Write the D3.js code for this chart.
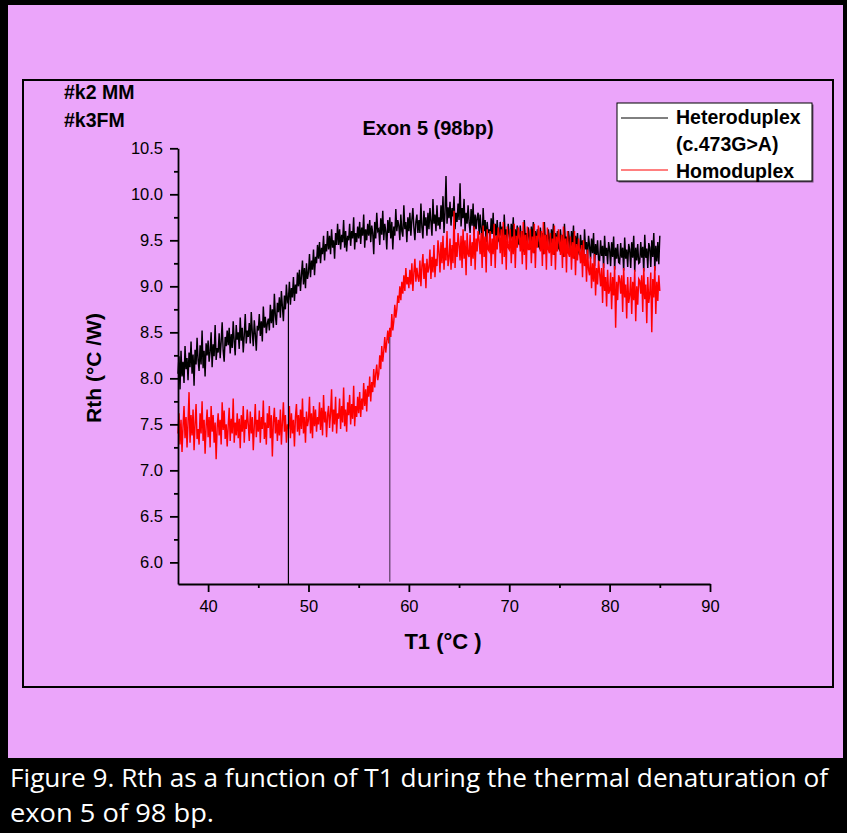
<!DOCTYPE html>
<html><head><meta charset="utf-8">
<script src="https://cdn.jsdelivr.net/npm/d3@7"></script>
<style>body{margin:0;background:#000}svg{display:block}</style>
</head><body><svg id="c" width="847" height="833"></svg>
<script>
// ---- data (T1 sampled from 37.0 °C every 0.1 °C) ----
const tStart = 37, tStep = 0.1;
const heteroduplex = [
8.05,8.24,7.88,8.30,8.02,8.18,7.95,8.35,8.10,8.22,
7.98,8.28,8.12,8.40,8.05,8.26,7.92,8.31,8.15,8.44,
8.20,8.08,8.36,8.15,8.52,8.11,8.30,8.02,8.38,8.25,
8.41,8.18,8.29,8.50,8.12,8.37,8.24,8.58,8.20,8.33,
8.28,8.49,8.22,8.40,8.61,8.30,8.18,8.45,8.35,8.52,
8.36,8.55,8.27,8.48,8.33,8.62,8.40,8.25,8.58,8.42,
8.50,8.32,8.66,8.41,8.55,8.28,8.47,8.70,8.38,8.52,
8.45,8.60,8.38,8.72,8.50,8.35,8.63,8.48,8.30,8.57,
8.52,8.70,8.46,8.62,8.40,8.78,8.55,8.67,8.49,8.60,
8.65,8.52,8.80,8.60,8.75,8.55,8.92,8.68,8.58,8.82,
8.72,8.88,8.66,8.95,8.78,8.62,8.90,8.75,9.02,8.83,
8.85,9.05,8.80,8.98,8.88,9.10,8.84,9.02,8.92,9.15,
9.00,9.18,8.95,9.12,9.28,9.02,9.20,8.98,9.25,9.08,
9.15,9.35,9.10,9.28,9.18,9.40,9.12,9.32,9.25,9.45,
9.30,9.48,9.25,9.42,9.35,9.55,9.28,9.46,9.38,9.60,
9.40,9.55,9.35,9.62,9.42,9.50,9.30,9.58,9.45,9.68,
9.45,9.62,9.40,9.56,9.48,9.72,9.42,9.60,9.38,9.55,
9.50,9.68,9.44,9.60,9.52,9.75,9.40,9.58,9.48,9.65,
9.52,9.70,9.46,9.64,9.55,9.78,9.42,9.62,9.50,9.68,
9.55,9.72,9.48,9.66,9.58,9.35,9.70,9.52,9.80,9.60,
9.62,9.45,9.74,9.56,9.82,9.50,9.68,9.60,9.40,9.72,
9.58,9.75,9.52,9.70,9.40,9.65,9.55,9.84,9.60,9.72,
9.66,9.50,9.78,9.60,9.54,9.88,9.62,9.70,9.48,9.75,
9.60,9.80,9.55,9.72,9.85,9.64,9.50,9.70,9.78,9.58,
9.72,9.58,9.90,9.64,9.52,9.82,9.66,9.75,9.55,9.80,
9.62,9.85,9.70,9.55,9.95,9.68,9.78,9.60,9.88,9.66,
9.75,9.62,9.88,9.70,9.98,9.58,9.80,10.20,9.68,9.86,
9.74,9.92,9.66,9.85,9.76,9.98,9.62,9.80,9.70,9.90,
9.72,10.12,9.65,9.85,9.74,9.95,9.60,9.80,9.68,9.88,
9.70,9.58,9.84,9.66,9.90,9.55,9.78,9.62,9.75,9.80,
9.56,9.78,9.62,9.50,9.85,9.60,9.72,9.48,9.70,9.58,
9.62,9.50,9.74,9.57,9.80,9.45,9.68,9.55,9.72,9.52,
9.48,9.70,9.55,9.65,9.42,9.78,9.54,9.62,9.50,9.68,
9.56,9.44,9.68,9.52,9.75,9.40,9.62,9.50,9.66,9.48,
9.45,9.66,9.50,9.60,9.38,9.72,9.52,9.58,9.42,9.64,
9.55,9.40,9.65,9.49,9.70,9.36,9.60,9.46,9.62,9.44,
9.42,9.64,9.50,9.58,9.35,9.70,9.48,9.56,9.40,9.62,
9.52,9.38,9.62,9.47,9.68,9.34,9.58,9.45,9.60,9.42,
9.40,9.62,9.46,9.56,9.32,9.68,9.45,9.54,9.36,9.60,
9.50,9.35,9.60,9.44,9.66,9.30,9.55,9.42,9.58,9.38,
9.34,9.56,9.40,9.50,9.26,9.62,9.40,9.48,9.30,9.55,
9.44,9.30,9.52,9.36,9.58,9.22,9.46,9.34,9.50,9.28,
9.28,9.50,9.33,9.44,9.20,9.55,9.33,9.42,9.24,9.48,
9.40,9.22,9.48,9.32,9.54,9.18,9.42,9.30,9.46,9.26,
9.25,9.47,9.31,9.42,9.17,9.53,9.30,9.40,9.21,9.46,
9.40,9.20,9.48,9.31,9.55,9.16,9.42,9.28,9.46,9.25,
9.26,9.48,9.31,9.43,9.16,9.56,9.31,9.41,9.20,9.47,
9.42,9.21,9.50,9.32,9.58,9.17,9.44,9.27,9.48,9.24,
9.55];
const homoduplex = [
7.40,7.62,7.28,7.55,7.20,7.48,7.70,7.35,7.58,7.25,
7.52,7.85,7.30,7.60,7.38,7.66,7.22,7.50,7.72,7.34,
7.45,7.28,7.62,7.40,7.75,7.32,7.55,7.18,7.48,7.66,
7.36,7.58,7.25,7.70,7.42,7.60,7.30,7.52,7.12,7.46,
7.62,7.38,7.55,7.28,7.74,7.44,7.65,7.34,7.50,7.26,
7.48,7.68,7.32,7.56,7.40,7.78,7.30,7.52,7.38,7.62,
7.35,7.56,7.24,7.60,7.42,7.70,7.30,7.55,7.45,7.66,
7.50,7.32,7.64,7.40,7.58,7.22,7.48,7.72,7.36,7.55,
7.42,7.65,7.30,7.58,7.45,7.76,7.34,7.52,7.28,7.62,
7.46,7.70,7.35,7.60,7.15,7.52,7.68,7.40,7.58,7.32,
7.55,7.38,7.66,7.28,7.52,7.74,7.42,7.60,7.30,7.50,
7.45,7.70,7.35,7.62,7.40,7.55,7.26,7.58,7.72,7.42,
7.60,7.38,7.66,7.45,7.78,7.40,7.58,7.30,7.64,7.48,
7.55,7.80,7.40,7.62,7.35,7.70,7.48,7.66,7.42,7.58,
7.50,7.74,7.44,7.68,7.38,7.82,7.52,7.64,7.36,7.60,
7.70,7.46,7.62,7.88,7.42,7.66,7.50,7.80,7.40,7.62,
7.56,7.78,7.45,7.70,7.52,7.90,7.48,7.66,7.42,7.74,
7.60,7.82,7.50,7.72,7.56,7.92,7.48,7.70,7.58,7.80,
7.62,7.85,7.58,7.78,7.66,7.95,7.70,7.88,7.64,7.92,
7.80,8.02,7.75,7.96,7.85,8.10,7.90,8.05,8.15,7.98,
8.05,8.25,8.10,8.35,8.18,8.30,8.45,8.28,8.40,8.52,
8.38,8.55,8.45,8.70,8.52,8.62,8.80,8.66,8.75,8.90,
8.82,9.00,8.85,9.05,8.92,9.12,8.95,9.20,9.02,9.10,
8.98,9.18,9.02,9.25,8.95,9.15,9.30,9.05,9.20,9.10,
9.05,9.28,9.00,9.22,9.35,9.08,9.25,8.98,9.30,9.15,
9.20,9.40,9.08,9.32,9.15,9.45,9.10,9.30,9.22,9.50,
9.38,9.15,9.48,9.25,9.55,9.18,9.42,9.28,9.60,9.22,
9.30,9.52,9.18,9.45,9.25,9.82,9.20,9.48,9.32,9.58,
9.45,9.28,9.55,9.20,9.62,9.30,9.50,9.12,9.58,9.35,
9.32,9.56,9.22,9.48,9.30,9.65,9.18,9.52,9.38,9.60,
9.50,9.35,9.58,9.20,9.66,9.32,9.54,9.15,9.62,9.40,
9.38,9.60,9.22,9.52,9.35,9.68,9.20,9.55,9.40,9.64,
9.55,9.36,9.62,9.24,9.70,9.32,9.56,9.18,9.65,9.42,
9.40,9.62,9.25,9.54,9.35,9.68,9.20,9.55,9.42,9.64,
9.55,9.38,9.60,9.24,9.70,9.34,9.56,9.18,9.65,9.40,
9.40,9.62,9.25,9.54,9.36,9.68,9.20,9.55,9.42,9.66,
9.55,9.38,9.60,9.22,9.70,9.35,9.56,9.18,9.64,9.40,
9.36,9.58,9.22,9.52,9.34,9.66,9.18,9.54,9.38,9.62,
9.50,9.34,9.56,9.20,9.65,9.32,9.52,9.15,9.60,9.36,
9.32,9.54,9.18,9.48,9.30,9.60,9.12,9.46,9.28,9.52,
9.38,9.25,9.45,9.10,9.50,9.22,9.35,9.05,9.40,9.18,
9.12,9.32,8.98,9.25,9.05,9.35,8.90,9.20,9.02,9.28,
9.15,9.00,9.20,8.82,9.25,8.95,9.10,8.78,9.18,8.92,
8.95,9.15,8.75,9.10,8.90,9.22,8.55,9.05,8.85,9.12,
9.08,8.92,9.12,8.72,9.20,8.88,9.02,8.65,9.10,8.82,
8.90,9.10,8.70,9.05,8.85,9.18,8.62,9.00,8.80,9.08,
9.06,8.92,9.12,8.72,9.20,8.86,9.02,8.60,9.10,8.82,
8.92,9.15,8.50,9.08,8.88,9.22,8.70,9.05,8.84,9.12,
8.95];
const dropT = [48, 58.1];          // vertical marker temperatures
const dropTop = [8.93, 8.45];      // Rth where each marker starts
const xMajor = [40, 50, 60, 70, 80, 90];
const xMinor = [45, 55, 65, 75, 85];
const yMajor = [6.0, 6.5, 7.0, 7.5, 8.0, 8.5, 9.0, 9.5, 10.0, 10.5];
const yMinor = [6.25, 6.75, 7.25, 7.75, 8.25, 8.75, 9.25, 9.75, 10.25];
const seriesNames = ["Heteroduplex", "Homoduplex"];
const seriesColors = ["#000000", "#ff0000"];
const legendLines = ["Heteroduplex", "(c.473G>A)", "Homoduplex"];
const sampleLabels = ["#k2 MM", "#k3FM"];
const chartTitle = "Exon 5 (98bp)";
const xLabel = "T1 (°C )";
const yLabel = "Rth (°C /W)";
const caption = ["Figure 9. Rth as a function of T1 during the thermal denaturation of", "exon 5 of 98 bp."];

// ---- drawing ----
const svg = d3.select("#c");
const PURPLE = "#eba5fa";
const FONT = "'Liberation Sans', Arial, sans-serif";

svg.append("rect").attr("width", 847).attr("height", 833).attr("fill", "#000");
svg.append("rect").attr("x", 8).attr("y", 5).attr("width", 835).attr("height", 753).attr("fill", PURPLE);
svg.append("rect").attr("x", 23).attr("y", 80).attr("width", 810).attr("height", 607)
  .attr("fill", "none").attr("stroke", "#000").attr("stroke-width", 2);

const x = d3.scaleLinear().domain([37, 90]).range([178, 710]);
const y = d3.scaleLinear().domain([5.765, 10.5]).range([584, 148.3]);

const toPts = arr => arr.map((v, i) => [tStart + i * tStep, v]);
const line = d3.line().x(d => x(d[0])).y(d => y(d[1]));

const plot = svg.append("g");
[heteroduplex, homoduplex].forEach((arr, k) => {
  plot.append("path").datum(toPts(arr)).attr("d", line)
    .attr("fill", "none").attr("stroke", seriesColors[k]).attr("stroke-width", 1.45)
    .attr("stroke-linejoin", "miter");
});
dropT.forEach((t, i) => {
  plot.append("line").attr("x1", x(t)).attr("x2", x(t))
    .attr("y1", y(dropTop[i])).attr("y2", i === 0 ? y(5.765) : y(5.79))
    .attr("stroke", i === 0 ? "#000" : "#5a3d60").attr("stroke-width", 1.2);
});

// axes
const gx = svg.append("g").attr("transform", `translate(0,${y(5.765)})`);
gx.call(d3.axisBottom(x).tickValues(xMajor).tickFormat(d3.format("d")).tickSize(8).tickSizeOuter(0).tickPadding(8));
const gxm = svg.append("g").attr("transform", `translate(0,${y(5.765)})`);
gxm.call(d3.axisBottom(x).tickValues(xMinor).tickFormat("").tickSize(4).tickSizeOuter(0));
gxm.select(".domain").remove();

const gy = svg.append("g").attr("transform", `translate(${x(37)},0)`);
gy.call(d3.axisLeft(y).tickValues(yMajor).tickFormat(d3.format(".1f")).tickSize(8).tickSizeOuter(0).tickPadding(7));
const gym = svg.append("g").attr("transform", `translate(${x(37)},0)`);
gym.call(d3.axisLeft(y).tickValues(yMinor).tickFormat("").tickSize(4).tickSizeOuter(0));
gym.select(".domain").remove();

svg.selectAll(".domain, .tick line").attr("stroke", "#000").attr("stroke-width", 1.8);
svg.selectAll(".tick text").attr("font-family", FONT).attr("font-size", 16.5).attr("fill", "#000");

// texts
svg.append("text").attr("x", 428).attr("y", 135).attr("text-anchor", "middle")
  .attr("font-family", FONT).attr("font-weight", "bold").attr("font-size", 20).text(chartTitle);
sampleLabels.forEach((s, i) => svg.append("text").attr("x", 64).attr("y", 99 + i * 28)
  .attr("font-family", FONT).attr("font-weight", "bold").attr("font-size", 19.5).text(s));
svg.append("text").attr("x", 443).attr("y", 649).attr("text-anchor", "middle")
  .attr("font-family", FONT).attr("font-weight", "bold").attr("font-size", 22).text(xLabel);
svg.append("text").attr("transform", "translate(101,368) rotate(-90)").attr("text-anchor", "middle")
  .attr("font-family", FONT).attr("font-weight", "bold").attr("font-size", 21).text(yLabel);

// legend
const lg = svg.append("g");
lg.append("rect").attr("x", 618.5).attr("y", 104.5).attr("width", 195).attr("height", 78).attr("fill", "#6d5272");
lg.append("rect").attr("x", 617).attr("y", 103).attr("width", 195).attr("height", 78)
  .attr("fill", "#fff").attr("stroke", "#000").attr("stroke-width", 1);
[118, 170].forEach((ly, k) => lg.append("line").attr("x1", 621).attr("x2", 668).attr("y1", ly).attr("y2", ly)
  .attr("stroke", seriesColors[k]).attr("stroke-width", 1));
legendLines.forEach((s, i) => lg.append("text").attr("x", 676).attr("y", 124 + i * 27)
  .attr("font-family", FONT).attr("font-weight", "bold").attr("font-size", 19.5).text(s));

// caption
caption.forEach((s, i) => {
  svg.append("text").attr("x", 10).attr("y", 787 + i * 35)
    .attr("font-family", "'Open Sans', sans-serif").attr("font-size", 25).attr("fill", "#fff")
    .attr("textLength", i === 0 ? 818 : 204).attr("lengthAdjust", "spacingAndGlyphs").text(s);
});
</script>
</body></html>
